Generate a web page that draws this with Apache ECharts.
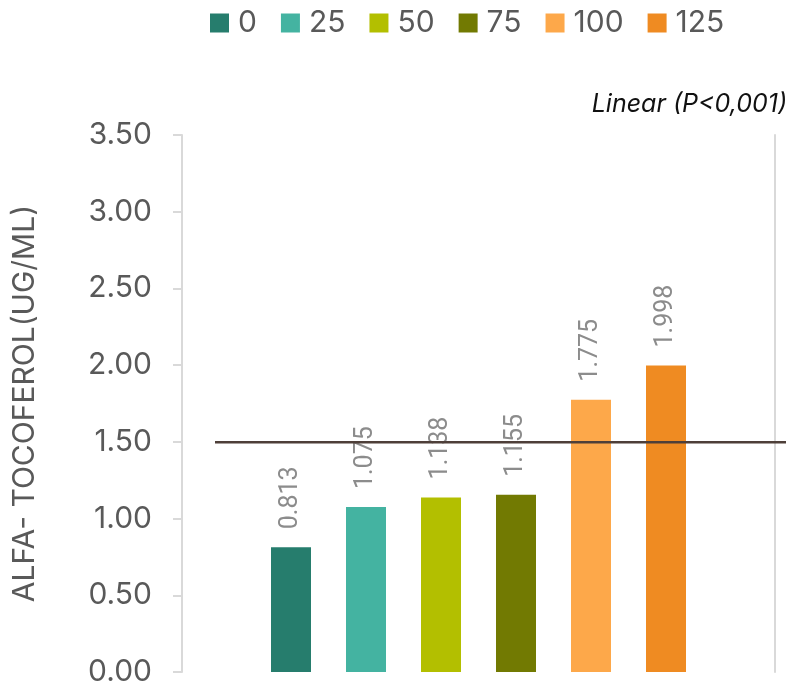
<!DOCTYPE html>
<html>
<head>
<meta charset="utf-8">
<script src="https://cdn.jsdelivr.net/npm/echarts@6/dist/echarts.min.js"></script>
<style>
  html, body { margin: 0; padding: 0; background: #fff; }
  #chart { width: 798px; height: 687px; }
</style>
</head>
<body>
<div id="chart"></div>
<script>
// Dose groups and measured alpha-tocopherol (ug/mL)
const groups = ['0', '25', '50', '75', '100', '125'];
const values = [0.813, 1.075, 1.138, 1.155, 1.775, 1.998];
const colors = ['#267d6d', '#44b3a1', '#b3bf00', '#727a02', '#fda84a', '#ef8b22'];
// Reference level drawn across the plot
const refLevel = 1.516;
const yTicks = { min: 0, max: 3.5, interval: 0.5 };
const axisTitle = 'ALFA- TOCOFEROL(UG/ML)';
const noteText = 'Linear (P<0,001)';

const FONT = 'Inter, Lato, sans-serif';

const barSeries = groups.map((g, i) => ({
  name: g,
  type: 'bar',
  xAxisIndex: 0,
  yAxisIndex: 0,
  data: [values[i]],
  barWidth: 40,
  barGap: '87.5%',
  itemStyle: { color: colors[i] },
  label: {
    show: true,
    position: 'top',
    rotate: 90,
    align: 'left',
    verticalAlign: 'middle',
    distance: 18,
    color: '#8c8c8c',
    fontFamily: 'Roboto, sans-serif',
    fontSize: 25,
    formatter: p => p.value.toFixed(3)
  }
}));

const chart = echarts.init(document.getElementById('chart'), null, { renderer: 'canvas' });
chart.setOption({
  animation: false,
  backgroundColor: '#ffffff',
  title: {
    text: noteText,
    right: 6,
    top: 87,
    textStyle: { fontFamily: FONT, fontStyle: 'italic', fontWeight: 'normal', fontSize: 25, color: '#111' }
  },
  legend: {
    data: groups,
    left: 205,
    top: 3,
    itemWidth: 19,
    itemHeight: 19,
    itemGap: 24,
    icon: 'rect',
    textStyle: { fontFamily: FONT, fontSize: 30, color: '#595959', padding: [0, 0, 0, 4] }
  },
  grid: [
    { left: 182, right: 23, top: 135, bottom: 10, containLabel: false },
    { left: 215, right: 12, top: 135, bottom: 10, containLabel: false }
  ],
  xAxis: [
    {
      type: 'category',
      gridIndex: 0,
      data: [''],
      axisLine: { show: false },
      axisTick: { show: false },
      axisLabel: { show: false }
    },
    {
      type: 'value',
      gridIndex: 1,
      min: 0,
      max: 1,
      show: false
    }
  ],
  yAxis: [
    {
      type: 'value',
      gridIndex: 0,
      min: yTicks.min,
      max: yTicks.max,
      interval: yTicks.interval,
      name: axisTitle,
      nameLocation: 'middle',
      nameRotate: 90,
      nameGap: 142,
      nameTextStyle: { fontFamily: FONT, fontSize: 30, color: '#595959' },
      axisLine: { show: true, lineStyle: { color: '#d9d9d9', width: 2 } },
      axisTick: { show: true, inside: false, length: 9, lineStyle: { color: '#d9d9d9', width: 2 } },
      splitLine: { show: false },
      axisLabel: {
        margin: 30,
        fontFamily: FONT,
        fontSize: 30,
        color: '#595959',
        formatter: v => v.toFixed(2)
      }
    },
    {
      type: 'value',
      gridIndex: 0,
      position: 'right',
      min: yTicks.min,
      max: yTicks.max,
      interval: yTicks.interval,
      axisLine: { show: true, lineStyle: { color: '#d9d9d9', width: 2 } },
      axisTick: { show: false },
      axisLabel: { show: false },
      splitLine: { show: false }
    },
    {
      type: 'value',
      gridIndex: 1,
      min: yTicks.min,
      max: yTicks.max,
      show: false
    }
  ],
  series: barSeries.concat([{
    name: 'reference',
    type: 'line',
    xAxisIndex: 1,
    yAxisIndex: 2,
    data: [[0, refLevel], [1, refLevel]],
    symbol: 'none',
    silent: true,
    z: 5,
    lineStyle: { color: '#4e3f39', width: 2.5 }
  }])
});
</script>
</body>
</html>
